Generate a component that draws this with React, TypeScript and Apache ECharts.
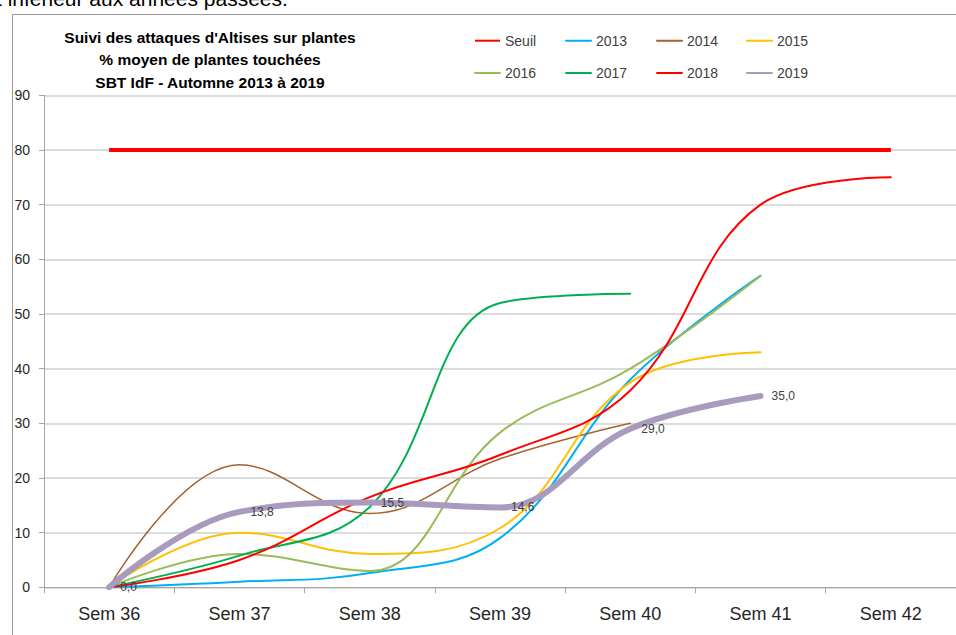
import React, { useEffect, useRef } from "react";
import * as echarts from "echarts";

const categories = ["Sem 36", "Sem 37", "Sem 38", "Sem 39", "Sem 40", "Sem 41", "Sem 42"];
const seuil = [80, 80, 80, 80, 80, 80, 80];
const s2013 = [0, 1, 2.6, 9, 38, 57, null];
const s2014 = [0, 22.4, 13.5, 23.5, 30, null, null];
const s2015 = [0, 10, 6.1, 10.8, 37.5, 43, null];
const s2016 = [0, 6.1, 3, 28.3, 40, 57, null];
const s2017 = [0, 5.8, 14.7, 52, 53.7, null, null];
const s2018 = [0, 5, 16.5, 24.2, 36, 70, 75];
const s2019 = [0, 13.8, 15.5, 14.6, 29, 35, null];
const yTicks = { min: 0, max: 90, interval: 10 };
const titleLines = [
  "Suivi des attaques d'Altises sur plantes",
  "% moyen de plantes touchées",
  "SBT IdF - Automne 2013 à 2019",
];
const topText = "t inférieur aux années passées.";

const FONT = "'Liberation Sans', Arial, sans-serif";

export default function App() {
  const ref = useRef<HTMLDivElement>(null);
  useEffect(() => {
    if (!ref.current) return;
    const chart = echarts.init(ref.current, null, { renderer: "svg" });
    const mk = (name: string, data: any[], color: string, width: number, extra: any = {}) => ({
      name,
      type: "line",
      data,
      smooth: 0.4,
      symbol: "none",
      connectNulls: false,
      lineStyle: { color, width, cap: "round", join: "round" },
      itemStyle: { color },
      z: 2,
      ...extra,
    });
    const legendCol = (left: number, names: string[]) => ({
      orient: "vertical",
      left,
      top: 28.7,
      itemWidth: 25,
      itemHeight: 14,
      itemGap: 18.2,
      data: names,
      itemStyle: { opacity: 0, borderWidth: 0 },
      textStyle: { fontFamily: FONT, fontSize: 14, color: "#404040" },
      selectedMode: false,
    });
    chart.setOption({
      animation: false,
      textStyle: { fontFamily: FONT },
      legend: [
        legendCol(469, ["Seuil", "2016"]),
        legendCol(560, ["2013", "2017"]),
        legendCol(651, ["2014", "2018"]),
        legendCol(741, ["2015", "2019"]),
      ],
      grid: { left: 44, top: 95.3, width: 917, bottom: 47.7, containLabel: false },
      xAxis: {
        type: "category",
        data: categories,
        boundaryGap: true,
        axisLine: { lineStyle: { color: "#a6a6a6", width: 1 } },
        axisTick: { show: true, length: 6, lineStyle: { color: "#a6a6a6" } },
        axisLabel: { fontFamily: FONT, fontSize: 18, color: "#262626", margin: 18 },
      },
      yAxis: {
        type: "value",
        min: yTicks.min,
        max: yTicks.max,
        interval: yTicks.interval,
        axisLine: { show: true, lineStyle: { color: "#a6a6a6", width: 1 } },
        axisTick: { show: true, length: 5, lineStyle: { color: "#a6a6a6" } },
        axisLabel: { fontFamily: FONT, fontSize: 14, color: "#262626", margin: 14 },
        splitLine: { lineStyle: { color: "#d0d0d0", width: 1.5 } },
      },
      graphic: [
        {
          type: "rect",
          shape: { x: 12.5, y: 14.5, width: 1000, height: 700 },
          style: { fill: "none", stroke: "#9a9a9a", lineWidth: 1 },
          silent: true,
          z: -1,
        },
        {
          type: "text",
          x: -4,
          y: 9,
          style: {
            text: topText,
            fontFamily: FONT,
            fontSize: 21,
            fill: "#000",
            verticalAlign: "bottom",
          },
          silent: true,
        },
        ...titleLines.map((t, i) => ({
          type: "text",
          x: 210,
          y: 37 + i * 22.5,
          style: {
            text: t,
            fontFamily: FONT,
            fontSize: 15.5,
            fontWeight: "bold",
            fill: "#000",
            align: "center",
            verticalAlign: "middle",
          },
          silent: true,
        })),
      ],
      series: [
        mk("Seuil", seuil, "#ff0000", 4, { smooth: false, lineStyle: { color: "#ff0000", width: 4, cap: "butt" } }),
        mk("2013", s2013, "#00b0f0", 2),
        mk("2014", s2014, "#a5622e", 1.5),
        mk("2015", s2015, "#ffc000", 2),
        mk("2016", s2016, "#9bbb59", 2),
        mk("2017", s2017, "#00b050", 2),
        mk("2018", s2018, "#ff0000", 2),
        mk("2019", s2019, "#a99bbd", 6, {
          symbol: "circle",
          symbolSize: 2,
          showSymbol: true,
          itemStyle: { color: "rgba(169,155,189,0)", borderWidth: 0 },
          label: {
            show: true,
            position: "right",
            distance: 10,
            fontFamily: FONT,
            fontSize: 12,
            color: "#404040",
            formatter: (p: any) => {
              const v = Array.isArray(p.value) ? p.value[1] : p.value;
              return v == null ? "" : Number(v).toFixed(1).replace(".", ",");
            },
          },
          labelLayout: { hideOverlap: false },
          z: 3,
        }),
      ],
    });
    return () => chart.dispose();
  }, []);
  return (
    <div
      ref={ref}
      style={{ position: "fixed", left: 0, top: 0, width: 956, height: 635, background: "#fff" }}
    />
  );
}
